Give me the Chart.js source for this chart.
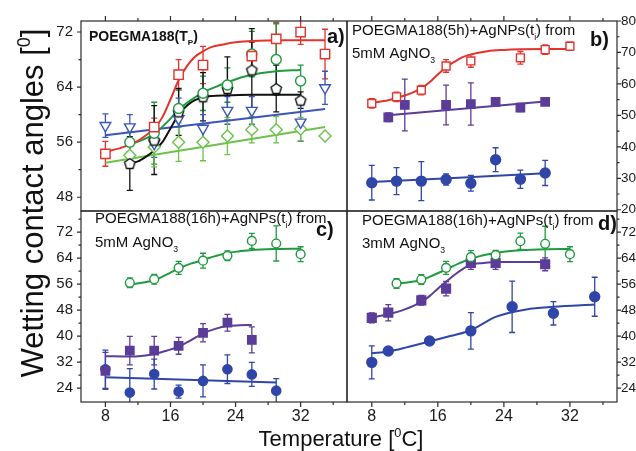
<!DOCTYPE html>
<html>
<head>
<meta charset="utf-8">
<script src="https://cdn.jsdelivr.net/npm/chart.js@4.4.1/dist/chart.umd.min.js"></script>
<style>
  html, body { margin: 0; padding: 0; background: #fff; }
  #wrap { position: relative; width: 636px; height: 451px; }
  #wrap canvas { position: absolute; left: 0; top: 0; }
</style>
</head>
<body>
<div id="wrap">
  <canvas id="pa" width="636" height="451"></canvas>
  <canvas id="pb" width="636" height="451"></canvas>
  <canvas id="pc" width="636" height="451"></canvas>
  <canvas id="pd" width="636" height="451"></canvas>
</div>
<script>
const FONT = '"Liberation Sans", Arial, sans-serif';

// tick values
const xTicks = [8, 12, 16, 20, 24, 28, 32, 36];
const yTicksA = [48, 52, 56, 60, 64, 68, 72];
const yTicksB = [20, 25, 30, 35, 40, 45, 50, 55, 60, 65, 70, 75, 80];
const yTicksCD = [24, 28, 32, 36, 40, 44, 48, 52, 56, 60, 64, 68, 72, 76];

// ---- panel a) POEGMA188(Tp)
const aRedT = [8, 14, 17, 20, 26, 29, 32, 35];
const aRedY = [54.3, 58.2, 65.8, 67.2, 68.5, 71.0, 72.0, 68.8];
const aRedErr = [1.8, 1.3, 2.2, 2.7, 2.0, 2.4, 1.8, 3.6];
const aRedFitT = [8, 10, 12, 13, 14, 15, 16, 17, 18, 19, 20, 21, 22.5, 24, 26, 30, 35];
const aRedFitY = [54.6, 55.2, 56.2, 57.0, 58.0, 59.6, 62.2, 65.0, 67.0, 68.4, 69.2, 69.8, 70.2, 70.5, 70.7, 70.8, 70.8];

const aGreenT = [11, 14, 17, 20, 23, 26, 29, 32];
const aGreenY = [56.0, 57.3, 60.9, 63.1, 64.3, 68.8, 68.0, 64.9];
const aGreenErr = [1.5, 4.5, 2.7, 2.5, 2.5, 3.3, 5.2, 2.3];
const aGreenFitT = [11, 12.5, 14, 15.5, 17, 18.5, 20, 21.5, 23, 25, 27, 29, 32];
const aGreenFitY = [55.7, 56.3, 57.2, 58.8, 60.7, 62.1, 63.2, 64.0, 64.7, 65.5, 66.0, 66.3, 66.5];

const aBlackT = [11, 14, 17, 20, 23, 26, 29, 32];
const aBlackY = [52.9, 56.3, 60.4, 62.6, 63.8, 66.5, 63.8, 62.1];
const aBlackErr = [3.9, 5.0, 3.4, 3.5, 4.6, 6.0, 3.4, 1.2];
const aBlackFitT = [11, 12, 13, 14, 15, 16, 17, 18, 19, 20, 21, 23, 26, 29, 32];
const aBlackFitY = [52.9, 53.2, 53.9, 54.8, 56.0, 58.0, 60.0, 61.3, 62.1, 62.5, 62.7, 62.8, 62.9, 62.9, 62.9];

const aBlueT = [8, 11, 14, 17, 20, 23, 26, 32, 35];
const aBlueY = [58.4, 58.2, 55.8, 59.4, 58.0, 60.6, 60.6, 58.9, 63.9];
const aBlueErr = [1.7, 1.8, 2.0, 3.0, 2.0, 2.0, 2.0, 2.8, 2.4];
const aBlueFitT = [8, 35];
const aBlueFitY = [57.0, 60.8];

const aLimeT = [11, 14, 17, 20, 23, 26, 29, 32, 35];
const aLimeY = [54.1, 55.3, 56.0, 56.0, 56.9, 57.8, 57.8, 57.9, 56.9];
const aLimeErr = [1.5, 2.9, 2.8, 2.7, 2.7, 1.9, 1.9, 1.7, 0];
const aLimeFitT = [8, 35];
const aLimeFitY = [53.0, 58.2];

// ---- panel b) POEGMA188(5h)+AgNPs, 5mM AgNO3
const bRedT = [8, 11, 14, 17, 20, 26, 29, 32];
const bRedY = [53.8, 55.9, 58.0, 65.7, 67.3, 68.3, 70.9, 72.0];
const bRedErr = [1.5, 1.5, 1.5, 2.0, 2.0, 2.0, 1.5, 1.3];
const bRedFitT = [8, 10, 11, 12, 13, 14, 15, 16, 17, 18, 19, 20, 22, 24, 26, 29, 32];
const bRedFitY = [54.0, 54.8, 55.5, 56.3, 57.3, 58.6, 60.5, 63.0, 65.3, 67.0, 68.5, 69.4, 70.4, 70.8, 71.0, 71.1, 71.1];

const bPurpleT = [10, 12, 17, 20, 23, 26, 29];
const bPurpleY = [49.4, 53.3, 53.3, 53.6, 54.3, 52.5, 54.3];
const bPurpleErr = [1.4, 8.2, 6.3, 6.7, 1.3, 1.3, 1.0];
const bPurpleFitT = [10, 29];
const bPurpleFitY = [50.0, 54.4];

const bBlueT = [8, 11, 14, 17, 20, 23, 26, 29];
const bBlueY = [28.6, 29.1, 29.1, 29.6, 28.4, 35.9, 29.7, 31.7];
const bBlueErr = [5.5, 4.3, 6.2, 1.8, 2.5, 3.8, 2.9, 4.0];
const bBlueFitT = [8, 29];
const bBlueFitY = [28.8, 31.6];

// ---- panel c) POEGMA188(16h)+AgNPs, 5mM AgNO3
const cGreenT = [11, 14, 17, 20, 23, 26, 29, 32];
const cGreenY = [56.4, 57.5, 61.0, 63.2, 64.7, 69.3, 68.5, 65.2];
const cGreenErr = [1.5, 1.5, 2.0, 2.3, 1.5, 2.3, 5.4, 2.3];
const cGreenFitT = [11, 12.5, 14, 15.5, 17, 18.5, 20, 21.5, 23, 24.5, 26, 29, 32];
const cGreenFitY = [55.8, 56.4, 57.2, 58.9, 60.8, 62.3, 63.4, 64.6, 65.6, 66.1, 66.5, 66.8, 66.9];

const cPurpleT = [8, 11, 14, 17, 20, 23, 26];
const cPurpleY = [29.3, 35.5, 35.5, 37.0, 41.0, 44.1, 38.8];
const cPurpleErr = [5.7, 4.4, 4.4, 2.6, 2.8, 2.6, 4.0];
const cPurpleFitT = [8, 11, 14, 15.5, 17, 18.5, 20, 21.5, 23, 24.5, 26];
const cPurpleFitY = [33.8, 33.7, 34.5, 35.5, 36.7, 38.7, 40.8, 42.2, 43.1, 43.3, 43.4];

const cBlueT = [8, 11, 14, 17, 20, 23, 26, 29];
const cBlueY = [29.8, 22.6, 28.3, 22.9, 26.2, 29.8, 28.2, 23.2];
const cBlueErr = [5.9, 7.4, 4.6, 2.0, 4.9, 4.4, 3.7, 3.7];
const cBlueFitT = [8, 29];
const cBlueFitY = [27.3, 25.7];

// ---- panel d) POEGMA188(16h)+AgNPs, 3mM AgNO3
const dGreenT = [11, 14, 17, 20, 23, 26, 29, 32];
const dGreenY = [56.2, 57.4, 61.0, 64.3, 64.9, 69.2, 68.4, 65.2];
const dGreenErr = [1.5, 1.5, 2.0, 2.0, 1.5, 2.5, 5.4, 2.3];
const dGreenFitT = [11, 12.5, 14, 15.5, 17, 18.5, 20, 21.5, 23, 24.5, 26, 29, 32];
const dGreenFitY = [56.2, 56.6, 57.2, 58.8, 60.5, 62.3, 63.8, 64.9, 65.6, 66.1, 66.4, 66.7, 66.8];

const dPurpleT = [8, 10, 14, 17, 20, 23, 29];
const dPurpleY = [45.6, 47.2, 51.0, 54.6, 62.5, 62.5, 62.1];
const dPurpleErr = [1.5, 2.5, 1.5, 2.2, 2.0, 2.0, 2.0];
const dPurpleFitT = [8, 10, 12, 14, 15, 16, 17, 18, 19, 20, 21.5, 23, 26, 29];
const dPurpleFitY = [45.7, 46.7, 48.2, 50.5, 52.3, 54.6, 56.7, 58.8, 60.6, 62.0, 62.5, 62.8, 62.8, 62.8];

const dBlueT = [8, 10, 15, 20, 25, 30, 35];
const dBlueY = [31.9, 35.4, 38.5, 41.6, 49.0, 47.0, 52.1];
const dBlueErr = [5.1, 1.0, 1.0, 5.6, 7.9, 3.6, 6.0];
const dBlueFitT = [8, 10, 12.5, 15, 17.5, 20, 23, 26.7, 30, 35];
const dBlueFitY = [34.7, 35.2, 36.7, 38.3, 40.0, 41.8, 45.9, 48.2, 49.0, 49.7];

// colours
const RED = '#e4322c', GREEN = '#1f9a40', BLACK = '#111111', BLUE = '#3b55b9',
      LIME = '#6cc24a', PURPLE = '#5b3c99', NAVY = '#2f46a8';

function pts(xs, ys) { return xs.map((x, i) => ({x: x, y: ys[i]})); }

function marks(xs, ys, err, color, style, open, r, extra) {
  return Object.assign({
    data: pts(xs, ys), err: err,
    borderColor: color, backgroundColor: open ? '#ffffff' : color,
    pointStyle: style, pointRadius: r, pointBorderWidth: 1.4,
    showLine: false, order: 0
  }, extra || {});
}

function fit(xs, ys, color) {
  return {
    data: pts(xs, ys), borderColor: color, borderWidth: 2,
    pointRadius: 0, showLine: true, cubicInterpolationMode: 'monotone',
    fill: false, order: 1
  };
}

function pentagon(r, color) {
  const s = Math.ceil(r * 2 + 4);
  const c = document.createElement('canvas');
  c.width = s; c.height = s;
  const g = c.getContext('2d');
  g.beginPath();
  for (let k = 0; k < 5; k++) {
    const ang = -Math.PI / 2 + k * 2 * Math.PI / 5;
    const px = s / 2 + r * Math.cos(ang), py = s / 2 + 0.5 + r * Math.sin(ang);
    if (k) g.lineTo(px, py); else g.moveTo(px, py);
  }
  g.closePath();
  g.fillStyle = '#fff'; g.fill();
  g.strokeStyle = color; g.lineWidth = 1.4; g.stroke();
  return c;
}

// vertical error bars, taken from dataset.err
const errorBars = {
  id: 'errorBars',
  beforeDatasetsDraw(chart) {
    const ctx = chart.ctx, ys = chart.scales.y, a = chart.chartArea;
    ctx.save();
    ctx.beginPath();
    ctx.rect(a.left, a.top, a.right - a.left, a.bottom - a.top);
    ctx.clip();
    chart.data.datasets.forEach((ds, i) => {
      if (!ds.err) return;
      const meta = chart.getDatasetMeta(i);
      ctx.strokeStyle = ds.borderColor;
      ctx.lineWidth = 1.3;
      meta.data.forEach((pt, j) => {
        const e = ds.err[j];
        if (!e) return;
        const v = ds.data[j].y;
        const y1 = ys.getPixelForValue(v + e), y2 = ys.getPixelForValue(v - e);
        ctx.beginPath();
        ctx.moveTo(pt.x, y1); ctx.lineTo(pt.x, y2);
        ctx.moveTo(pt.x - 3, y1); ctx.lineTo(pt.x + 3, y1);
        ctx.moveTo(pt.x - 3, y2); ctx.lineTo(pt.x + 3, y2);
        ctx.stroke();
      });
    });
    ctx.restore();
  }
};

// box round the plot area, with major/minor ticks on the chosen sides
const frame = {
  id: 'frame',
  afterDraw(chart, args, opts) {
    const ctx = chart.ctx, a = chart.chartArea, sx = chart.scales.x, sy = chart.scales.y;
    const sides = opts.sides || [];
    ctx.save();
    ctx.strokeStyle = '#2a2a2a';
    ctx.lineWidth = 1.2;
    ctx.strokeRect(a.left, a.top, a.right - a.left, a.bottom - a.top);
    ctx.beginPath();
    sx.ticks.forEach(t => {
      const x = sx.getPixelForValue(t.value);
      const len = t.value % 8 === 0 ? 5 : 3;
      if (sides.includes('bottom')) { ctx.moveTo(x, a.bottom); ctx.lineTo(x, a.bottom + len); }
      if (sides.includes('top')) { ctx.moveTo(x, a.top); ctx.lineTo(x, a.top - len); }
    });
    sy.ticks.forEach(t => {
      const y = sy.getPixelForValue(t.value);
      const len = t.value % opts.yStep === 0 ? 4 : 2.5;
      if (sides.includes('left')) { ctx.moveTo(a.left, y); ctx.lineTo(a.left - len, y); }
      if (sides.includes('right')) { ctx.moveTo(a.right, y); ctx.lineTo(a.right + len, y); }
    });
    ctx.stroke();
    ctx.restore();
  }
};

function rich(ctx, x, y, parts, size, bold) {
  let cx = x;
  parts.forEach(p => {
    const small = p[1] === 'sub' || p[1] === 'sup';
    const s = small ? size * 0.58 : size;
    ctx.font = (bold ? 'bold ' : '') + s + 'px ' + FONT;
    const dy = p[1] === 'sub' ? size * 0.32 : (p[1] === 'sup' ? -size * 0.42 : 0);
    ctx.fillText(p[0], cx, y + dy);
    cx += ctx.measureText(p[0]).width;
  });
  return cx - x;
}

function richWidth(ctx, parts, size, bold) {
  let w = 0;
  parts.forEach(p => {
    const small = p[1] === 'sub' || p[1] === 'sup';
    ctx.font = (bold ? 'bold ' : '') + (small ? size * 0.58 : size) + 'px ' + FONT;
    w += ctx.measureText(p[0]).width;
  });
  return w;
}

// all texts: panel captions and the two axis titles
const notes = {
  id: 'notes',
  afterDraw(chart) {
    const ctx = chart.ctx;
    ctx.save();
    ctx.fillStyle = '#111';
    ctx.textAlign = 'left';
    ctx.textBaseline = 'alphabetic';

    rich(ctx, 89, 41, [['POEGMA188(T'], ['P', 'sub'], [')']], 14, true);
    rich(ctx, 327, 43, [['a)']], 20, true);

    rich(ctx, 352, 35, [['POEGMA188(5h)+AgNPs(t'], ['i', 'sub'], [') from']], 15, false);
    rich(ctx, 352, 58, [['5mM AgNO'], ['3', 'sub']], 15, false);
    rich(ctx, 590, 46, [['b)']], 20, true);

    rich(ctx, 95, 223, [['POEGMA188(16h)+AgNPs(t'], ['i', 'sub'], [') from']], 15, false);
    rich(ctx, 95, 247, [['5mM AgNO'], ['3', 'sub']], 15, false);
    rich(ctx, 316, 236, [['c)']], 20, true);

    rich(ctx, 362, 225, [['POEGMA188(16h)+AgNPs(t'], ['i', 'sub'], [') from']], 15, false);
    rich(ctx, 362, 248, [['3mM AgNO'], ['3', 'sub']], 15, false);
    rich(ctx, 598, 230, [['d)']], 20, true);

    const xt = [['Temperature ['], ['0', 'sup'], ['C]']];
    rich(ctx, 341 - richWidth(ctx, xt, 22, false) / 2, 446, xt, 22, false);

    const yt = [['Wetting contact angles ['], ['0', 'sup'], [']']];
    ctx.translate(43, 203);
    ctx.rotate(-Math.PI / 2);
    rich(ctx, -richWidth(ctx, yt, 31, false) / 2, 0, yt, 31, false);
    ctx.restore();
  }
};

// one panel per canvas; area = plot box in page pixels
function panel(id, p) {
  const W = 636, H = 451;
  const left = p.ySide === 'left';
  const yW = left ? 50 : 19;
  const xH = p.showX ? 40 : 10;
  const pad = left
    ? {left: p.area.l - yW, right: W - p.area.r, top: p.area.t, bottom: H - p.area.b - xH}
    : {left: p.area.l, right: W - p.area.r - yW, top: p.area.t, bottom: H - p.area.b - xH};
  return new Chart(document.getElementById(id), {
    type: 'scatter',
    data: {datasets: p.sets},
    options: {
      responsive: false, animation: false, devicePixelRatio: 1,
      layout: {padding: pad},
      plugins: {legend: {display: false}, tooltip: {enabled: false}, frame: {sides: p.sides, yStep: p.yStep}},
      scales: {
        x: {
          type: 'linear', position: 'bottom', min: 5, max: 37.7,
          afterBuildTicks: s => { s.ticks = xTicks.map(v => ({value: v})); },
          afterFit: s => { s.height = xH; },
          grid: {display: false, drawTicks: false}, border: {display: false},
          ticks: {display: p.showX, autoSkip: false, maxRotation: 0, padding: 5, color: '#1a1a1a',
                  font: {family: FONT, size: 16}, callback: v => (v % 8 === 0 ? v : '')}
        },
        y: {
          type: 'linear', position: p.ySide, min: p.yMin, max: p.yMax,
          afterBuildTicks: s => { s.ticks = p.yTicks.map(v => ({value: v})); },
          afterFit: s => { s.width = yW; },
          grid: {display: false, drawTicks: false}, border: {display: false},
          ticks: {display: true, autoSkip: false, padding: left ? 8 : 4, color: '#1a1a1a',
                  font: {family: FONT, size: left ? 15 : 13.5}, callback: v => (v % p.yStep === 0 ? v : '')}
        }
      }
    },
    plugins: [errorBars, frame].concat(p.extra || [])
  });
}

panel('pa', {
  area: {l: 81, r: 347, t: 21, b: 211}, ySide: 'left', showX: false,
  yMin: 46.0, yMax: 73.6, yTicks: yTicksA, yStep: 8, sides: ['left', 'top'],
  sets: [
    marks(aRedT, aRedY, aRedErr, RED, 'rect', true, 6.6),
    marks(aGreenT, aGreenY, aGreenErr, GREEN, 'circle', true, 5),
    marks(aBlackT, aBlackY, aBlackErr, BLACK, pentagon(5.5, BLACK), true, 5.5),
    marks(aBlueT, aBlueY, aBlueErr, BLUE, 'triangle', true, 6.2, {rotation: 180}),
    marks(aLimeT, aLimeY, aLimeErr, LIME, 'rectRot', true, 6),
    fit(aRedFitT, aRedFitY, RED),
    fit(aGreenFitT, aGreenFitY, GREEN),
    fit(aBlackFitT, aBlackFitY, BLACK),
    fit(aBlueFitT, aBlueFitY, BLUE),
    fit(aLimeFitT, aLimeFitY, LIME)
  ]
});

panel('pb', {
  area: {l: 347, r: 617, t: 21, b: 211}, ySide: 'right', showX: false,
  yMin: 19.6, yMax: 80, yTicks: yTicksB, yStep: 10, sides: ['right', 'top'],
  sets: [
    marks(bRedT, bRedY, bRedErr, RED, 'rect', true, 5.6),
    marks(bPurpleT, bPurpleY, bPurpleErr, PURPLE, 'rect', false, 5.9),
    marks(bBlueT, bBlueY, bBlueErr, NAVY, 'circle', false, 5),
    fit(bRedFitT, bRedFitY, RED),
    fit(bPurpleFitT, bPurpleFitY, PURPLE),
    fit(bBlueFitT, bBlueFitY, NAVY)
  ]
});

panel('pc', {
  area: {l: 81, r: 347, t: 211, b: 402}, ySide: 'left', showX: true,
  yMin: 19.7, yMax: 78.5, yTicks: yTicksCD, yStep: 8, sides: ['left', 'bottom'],
  sets: [
    marks(cGreenT, cGreenY, cGreenErr, GREEN, 'circle', true, 4.4),
    marks(cPurpleT, cPurpleY, cPurpleErr, PURPLE, 'rect', false, 5.9),
    marks(cBlueT, cBlueY, cBlueErr, NAVY, 'circle', false, 4.6),
    fit(cGreenFitT, cGreenFitY, GREEN),
    fit(cPurpleFitT, cPurpleFitY, PURPLE),
    fit(cBlueFitT, cBlueFitY, NAVY)
  ]
});

panel('pd', {
  area: {l: 347, r: 617, t: 211, b: 402}, ySide: 'right', showX: true,
  yMin: 19.7, yMax: 78.5, yTicks: yTicksCD, yStep: 8, sides: ['right', 'bottom'],
  sets: [
    marks(dGreenT, dGreenY, dGreenErr, GREEN, 'circle', true, 4.4),
    marks(dPurpleT, dPurpleY, dPurpleErr, PURPLE, 'rect', false, 6.2),
    marks(dBlueT, dBlueY, dBlueErr, NAVY, 'circle', false, 5),
    fit(dGreenFitT, dGreenFitY, GREEN),
    fit(dPurpleFitT, dPurpleFitY, PURPLE),
    fit(dBlueFitT, dBlueFitY, NAVY)
  ],
  extra: [notes]
});
</script>
</body>
</html>
